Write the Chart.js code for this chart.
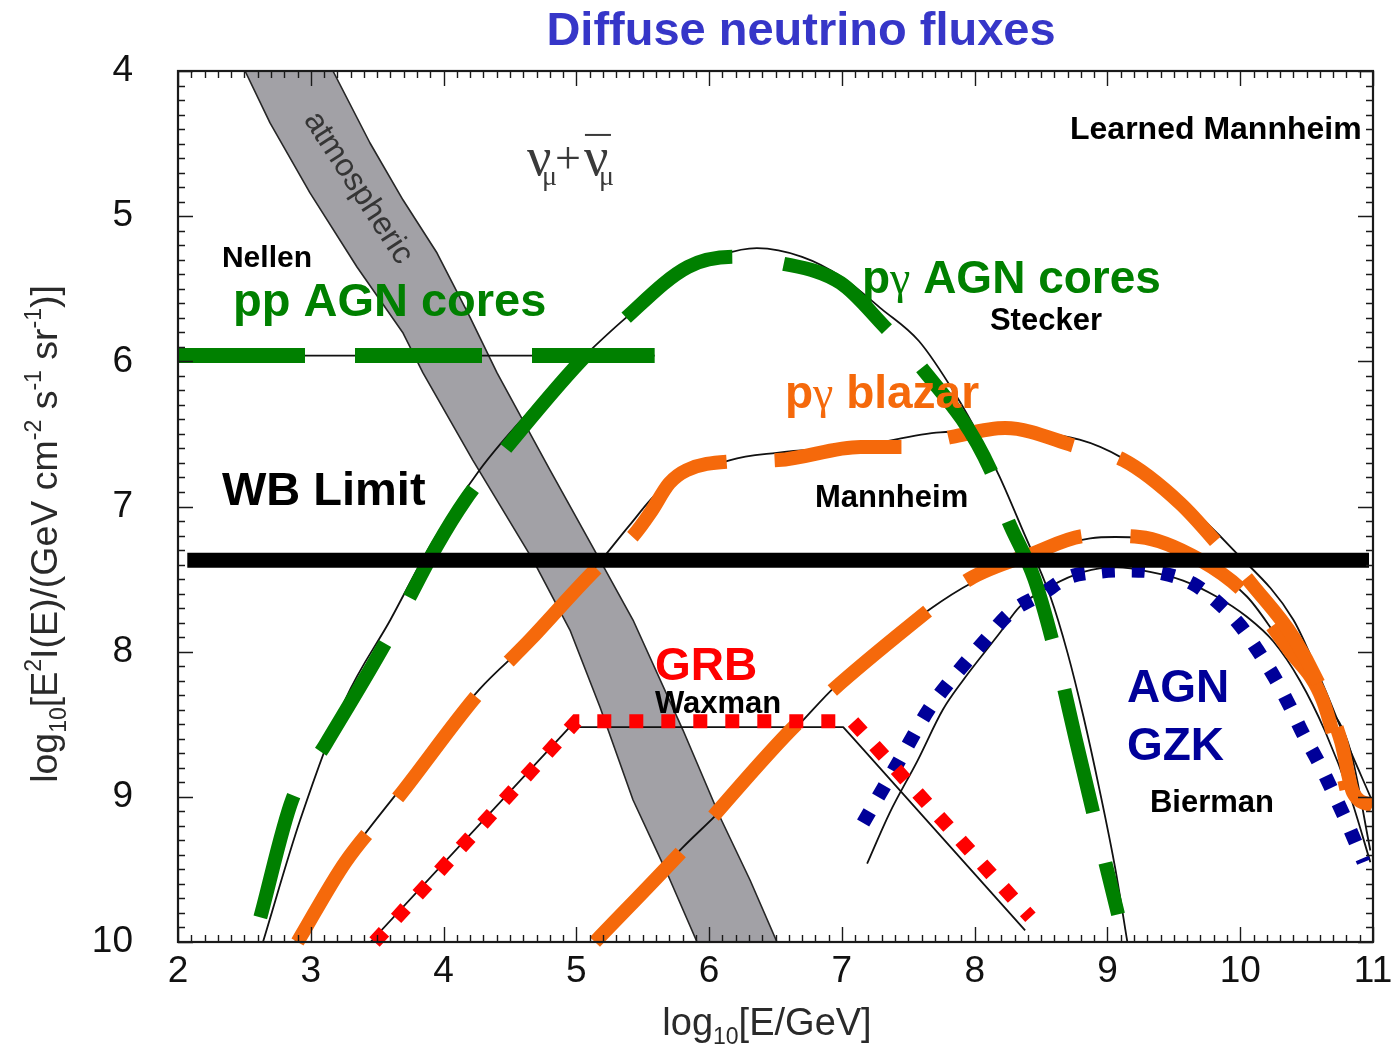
<!DOCTYPE html>
<html>
<head>
<meta charset="utf-8">
<title>Diffuse neutrino fluxes</title>
<script src="https://cdn.jsdelivr.net/npm/chart.js@4.4.1/dist/chart.umd.min.js"></script>
<style>
  html, body { margin: 0; padding: 0; background: #fff; }
</style>
</head>
<body>
<canvas id="flux" width="1393" height="1048"></canvas>
<script>
// x: log10(E/GeV), y: log10 E^2 I(E), y axis runs downward from 4 to 10
const xTicks = [2, 3, 4, 5, 6, 7, 8, 9, 10, 11];
const yTicks = [4, 5, 6, 7, 8, 9, 10];

// atmospheric band, left and right rims
const atmoLeftE  = [2.505, 2.693, 2.994, 3.348, 3.695, 3.845, 4.22, 4.674, 4.952, 5.178, 5.427, 5.683, 5.909];
const atmoLeftF  = [4.00, 4.358, 4.840, 5.350, 5.805, 6.080, 6.680, 7.369, 7.851, 8.381, 9.022, 9.525, 10.0];
const atmoRightE = [3.167, 3.446, 3.695, 3.951, 4.199, 4.403, 4.802, 5.178, 5.427, 5.803, 6.082, 6.308, 6.511];
const atmoRightF = [4.00, 4.496, 4.889, 5.254, 5.695, 6.080, 6.749, 7.369, 7.782, 8.540, 9.139, 9.573, 10.0];

// Nellen, pp AGN cores
const nellenE = [2.0, 5.59];
const nellenF = [5.96, 5.96];

// Stecker, p-gamma AGN cores (model curve and highlighted trace)
const steckerE = [2.64, 2.92, 3.26, 3.60, 3.90, 4.27, 4.65, 5.03, 5.40, 5.86, 6.36, 6.70, 7.00, 7.30, 7.58, 7.85, 8.06, 8.19, 8.36, 8.57, 8.70, 8.82, 8.94, 9.06, 9.15];
const steckerF = [10.0, 9.16, 8.33, 7.78, 7.27, 6.75, 6.34, 5.99, 5.68, 5.37, 5.22, 5.28, 5.42, 5.64, 5.86, 6.22, 6.56, 6.80, 7.16, 7.62, 8.01, 8.45, 8.95, 9.50, 10.0];
const steckerHiE = [2.62, 2.86, 3.11, 3.58, 3.95, 4.16, 4.46, 5.03, 5.35, 5.84, 6.19, 6.52, 6.99, 7.32, 7.57, 8.12, 8.24, 8.45, 8.62, 8.76, 8.89, 9.08];
const steckerHiF = [9.83, 9.02, 8.64, 7.91, 7.27, 6.96, 6.61, 6.00, 5.72, 5.35, 5.28, 5.32, 5.46, 5.76, 6.01, 6.75, 7.07, 7.50, 8.05, 8.60, 9.10, 9.81];

// Mannheim, p-gamma blazar
const blazarE = [2.88, 3.26, 3.67, 4.27, 4.65, 5.16, 5.40, 5.63, 6.16, 6.51, 7.14, 7.74, 8.19, 8.79, 9.12, 9.55, 9.95, 10.40, 10.62, 10.80, 10.99];
const blazarF = [10.0, 9.44, 8.95, 8.26, 7.92, 7.40, 7.13, 6.89, 6.68, 6.63, 6.58, 6.49, 6.48, 6.54, 6.67, 6.95, 7.30, 7.78, 8.22, 8.62, 9.02];
const blazarHiE = [2.90, 3.26, 3.67, 4.27, 4.65, 5.16, 5.43, 5.56, 5.70, 5.83, 6.16, 6.52, 7.14, 7.48, 7.83, 8.23, 8.78, 9.12, 9.55, 9.85, 10.10, 10.40, 10.62, 10.76, 10.85, 11.0];
const blazarHiF = [10.0, 9.45, 8.99, 8.28, 7.92, 7.42, 7.20, 7.04, 6.84, 6.75, 6.69, 6.68, 6.59, 6.59, 6.52, 6.46, 6.59, 6.68, 6.98, 7.28, 7.55, 7.90, 8.28, 8.62, 8.97, 9.06];

// Mannheim, lower blazar curve
const jetE = [5.14, 5.80, 6.08, 6.71, 6.96, 7.66, 7.99, 8.57, 8.87, 9.06, 9.24, 9.60, 10.05, 10.28, 10.60, 10.83, 10.98];
const jetF = [10.0, 9.35, 9.10, 8.47, 8.23, 7.71, 7.52, 7.29, 7.22, 7.21, 7.22, 7.33, 7.62, 7.90, 8.30, 8.68, 9.37];
const jetHiE = [5.14, 5.80, 6.68, 7.66, 7.96, 8.42, 8.87, 9.24, 9.70, 10.05, 10.37, 10.62, 10.75, 10.80];
const jetHiF = [10.0, 9.37, 8.48, 7.71, 7.50, 7.33, 7.20, 7.21, 7.37, 7.61, 7.99, 8.33, 8.75, 8.95];

// Waxman, GRB
const grbE = [3.45, 4.95, 7.01, 7.08, 8.38];
const grbF = [10.0, 8.52, 8.52, 8.59, 9.92];
const grbHiE = [3.48, 5.00, 7.08, 8.42];
const grbHiF = [10.0, 8.48, 8.48, 9.83];

// Bierman, AGN GZK
const gzkE = [7.19, 7.36, 7.57, 7.76, 7.91, 8.19, 8.34, 8.57, 8.82, 9.07, 9.32, 9.57, 9.82, 10.05, 10.25, 10.45, 10.64, 10.83, 10.98];
const gzkF = [9.46, 9.11, 8.75, 8.40, 8.20, 7.87, 7.69, 7.55, 7.45, 7.42, 7.45, 7.51, 7.62, 7.76, 7.93, 8.20, 8.55, 9.00, 9.45];
const gzkHiE = [7.16, 7.42, 7.66, 7.80, 8.08, 8.27, 8.51, 8.70, 8.93, 9.17, 9.41, 9.64, 9.83, 10.00, 10.13, 10.26, 10.37, 10.47, 10.60, 10.71, 10.82, 10.93];
const gzkHiF = [9.18, 8.77, 8.39, 8.22, 7.92, 7.73, 7.60, 7.49, 7.45, 7.44, 7.46, 7.53, 7.66, 7.82, 7.99, 8.18, 8.37, 8.56, 8.78, 8.99, 9.21, 9.45];

// Waxman-Bahcall limit
const wbE = [2.07, 10.97];
const wbF = [7.37, 7.37];

const GREEN = '#008000', ORANGE = '#f5690b', RED = '#ff0000', NAVY = '#000099', INK = '#111111';
const SANS = '"Liberation Sans", Arial, sans-serif';
const SERIF = '"Liberation Serif", "Times New Roman", serif';

const xy = (es, fs) => es.map((e, i) => ({ x: e, y: fs[i] }));

function curve(es, fs, color, width, extra) {
  return Object.assign({
    data: xy(es, fs),
    borderColor: color,
    borderWidth: width,
    pointRadius: 0,
    fill: false,
    cubicInterpolationMode: 'monotone',
    borderJoinStyle: 'round'
  }, extra || {});
}

const bottomSpill = { left: 0, top: 0, right: 0, bottom: 8 };

// first dataset is painted last (on top)
const datasets = [
  curve(wbE, wbF, '#000', 15, { cubicInterpolationMode: 'default' }),
  curve(steckerHiE, steckerHiF, GREEN, 14, { borderDash: [126, 52] }),
  curve(nellenE, nellenF, GREEN, 15, { borderDash: [127, 50], cubicInterpolationMode: 'default' }),
  curve(grbHiE, grbHiF, RED, 14, { borderDash: [14, 18], borderJoinStyle: 'miter', cubicInterpolationMode: 'default', clip: bottomSpill }),
  curve(blazarHiE, blazarHiF, ORANGE, 14, { borderDash: [128, 48], clip: bottomSpill }),
  curve(jetHiE, jetHiF, ORANGE, 14, { borderDash: [124, 49], clip: bottomSpill }),
  curve(gzkHiE, gzkHiF, NAVY, 14, { borderDash: [13, 17] }),
  curve(nellenE, nellenF, INK, 1.8, { cubicInterpolationMode: 'default' }),
  curve(steckerE, steckerF, INK, 1.8),
  curve(blazarE, blazarF, INK, 1.8),
  curve(jetE, jetF, INK, 1.8),
  curve(grbE, grbF, INK, 1.8, { cubicInterpolationMode: 'default' }),
  curve(gzkE, gzkF, INK, 1.8),
  curve(atmoLeftE, atmoLeftF, '#262626', 1.6, { cubicInterpolationMode: 'default' }),
  curve(atmoRightE, atmoRightF, '#262626', 1.6, { cubicInterpolationMode: 'default' }),
  {
    data: xy(atmoLeftE.concat(atmoRightE.slice().reverse()), atmoLeftF.concat(atmoRightF.slice().reverse())),
    borderWidth: 0,
    pointRadius: 0,
    backgroundColor: '#a2a1a6',
    fill: 'shape',
    tension: 0
  }
];

// text placed in data coordinates
const notes = [
  { text: 'Learned Mannheim', e: 8.718, f: 4.468, size: 32, color: '#000' },
  { text: 'Nellen', e: 2.331, f: 5.350, size: 30, color: '#000' },
  { text: 'pp AGN cores', e: 2.414, f: 5.688, size: 47, color: GREEN },
  { text: 'p\u03b3 AGN cores', e: 7.151, f: 5.529, size: 46, color: GREEN },
  { text: 'Stecker', e: 8.115, f: 5.784, size: 31, color: '#000' },
  { text: 'p\u03b3 blazar', e: 6.571, f: 6.321, size: 46, color: ORANGE },
  { text: 'Mannheim', e: 6.797, f: 7.003, size: 31, color: '#000' },
  { text: 'WB Limit', e: 2.331, f: 6.990, size: 47, color: '#000' },
  { text: 'GRB', e: 5.592, f: 8.195, size: 46, color: RED },
  { text: 'Waxman', e: 5.592, f: 8.422, size: 31, color: '#000' },
  { text: 'AGN', e: 9.147, f: 8.347, size: 46, color: NAVY },
  { text: 'GZK', e: 9.147, f: 8.746, size: 46, color: NAVY },
  { text: 'Bierman', e: 9.320, f: 9.104, size: 31, color: '#000' }
];

function drawRich(ctx, parts, cx, baseY, size, color) {
  const fontOf = s => (s ? Math.round(size * 0.6) : size) + 'px ' + SANS;
  let total = 0;
  const widths = parts.map(([t, s]) => {
    ctx.font = fontOf(s);
    const w = ctx.measureText(t).width;
    total += w;
    return w;
  });
  let x = cx - total / 2;
  ctx.fillStyle = color;
  ctx.textAlign = 'left';
  ctx.textBaseline = 'alphabetic';
  parts.forEach(([t, s], i) => {
    ctx.font = fontOf(s);
    const dy = s < 0 ? size * 0.24 : s > 0 ? -size * 0.42 : 0;
    ctx.fillText(t, x, baseY + dy);
    x += widths[i];
  });
}

// bold label; any gamma is set in a serif face
function drawNote(ctx, n, px, py) {
  ctx.fillStyle = n.color;
  ctx.textAlign = 'left';
  ctx.textBaseline = 'alphabetic';
  let x = px;
  n.text.split(/(\u03b3)/).forEach(piece => {
    if (!piece) return;
    ctx.font = piece === '\u03b3' ? n.size + 'px ' + SERIF : 'bold ' + n.size + 'px ' + SANS;
    ctx.fillText(piece, x, py);
    x += ctx.measureText(piece).width;
  });
}

// inward major/minor ticks on all four sides plus the frame
const frameTicks = {
  id: 'frameTicks',
  afterDatasetsDraw(chart) {
    const { ctx, chartArea: a, scales: { x, y } } = chart;
    ctx.save();
    ctx.strokeStyle = '#1a1a1a';
    ctx.lineWidth = 1.4;
    ctx.beginPath();
    for (let v = xTicks[0] * 10; v <= xTicks[xTicks.length - 1] * 10; v++) {
      const px = Math.round(x.getPixelForValue(v / 10)) + 0.5;
      const len = v % 10 === 0 ? 15 : 7;
      ctx.moveTo(px, a.bottom); ctx.lineTo(px, a.bottom - len);
      ctx.moveTo(px, a.top); ctx.lineTo(px, a.top + len);
    }
    for (let v = yTicks[0] * 10; v <= yTicks[yTicks.length - 1] * 10; v++) {
      const py = Math.round(y.getPixelForValue(v / 10)) + 0.5;
      const len = v % 10 === 0 ? 15 : 7;
      ctx.moveTo(a.left, py); ctx.lineTo(a.left + len, py);
      ctx.moveTo(a.right, py); ctx.lineTo(a.right - len, py);
    }
    ctx.stroke();
    ctx.lineWidth = 2.2;
    ctx.strokeRect(a.left, a.top, a.right - a.left, a.bottom - a.top);
    ctx.restore();
  }
};

const textLayer = {
  id: 'textLayer',
  afterDraw(chart) {
    const { ctx, scales: { x, y } } = chart;
    ctx.save();

    ctx.font = 'bold 47px ' + SANS;
    ctx.fillStyle = '#3636c8';
    ctx.textAlign = 'center';
    ctx.textBaseline = 'alphabetic';
    ctx.fillText('Diffuse neutrino fluxes', 801, 45);

    notes.forEach(n => drawNote(ctx, n, x.getPixelForValue(n.e), y.getPixelForValue(n.f)));

    // atmospheric label along the band
    ctx.save();
    ctx.translate(x.getPixelForValue(3.356), y.getPixelForValue(4.806));
    ctx.rotate(57 * Math.PI / 180);
    ctx.font = '32px ' + SANS;
    ctx.fillStyle = '#353535';
    ctx.textAlign = 'center';
    ctx.textBaseline = 'middle';
    ctx.fillText('atmospheric', 0, 0);
    ctx.restore();

    // nu_mu + anti-nu_mu
    const nx = x.getPixelForValue(4.628), ny = y.getPixelForValue(4.716);
    ctx.fillStyle = '#3a3a3a';
    ctx.textAlign = 'left';
    ctx.font = '54px ' + SERIF;
    ctx.fillText('\u03bd', nx, ny);
    ctx.font = '46px ' + SERIF;
    ctx.fillText('+', nx + 28, ny - 2);
    ctx.font = '54px ' + SERIF;
    ctx.fillText('\u03bd', nx + 57, ny);
    ctx.font = '28px ' + SERIF;
    ctx.fillText('\u03bc', nx + 15, ny + 10);
    ctx.fillText('\u03bc', nx + 72, ny + 10);
    ctx.fillRect(nx + 58, ny - 41, 26, 2);

    drawRich(ctx, [['log', 0], ['10', -1], ['[E/GeV]', 0]], 767, 1035, 38, '#2a2a2a');

    ctx.save();
    ctx.translate(57, 534);
    ctx.rotate(-Math.PI / 2);
    drawRich(ctx, [['log', 0], ['10', -1], ['[E', 0], ['2', 1], ['I(E)/(GeV cm', 0], ['-2', 1],
      [' s', 0], ['-1', 1], [' sr', 0], ['-1', 1], [')]', 0]], 0, 0, 37.5, '#2a2a2a');
    ctx.restore();

    ctx.restore();
  }
};

const tickFont = { family: SANS, size: 37 };

new Chart(document.getElementById('flux'), {
  type: 'line',
  data: { datasets: datasets },
  options: {
    responsive: false,
    animation: false,
    events: [],
    layout: { padding: { top: 71, right: 20, left: 0, bottom: 0 }, autoPadding: false },
    plugins: { legend: { display: false }, tooltip: { enabled: false } },
    scales: {
      x: {
        type: 'linear',
        min: xTicks[0],
        max: xTicks[xTicks.length - 1],
        afterFit(scale) {
          scale.height = 106;
          scale.paddingLeft = 0;
          scale.paddingRight = 0;
        },
        afterBuildTicks(scale) { scale.ticks = xTicks.map(v => ({ value: v })); },
        grid: { display: false, drawTicks: false },
        border: { display: false },
        ticks: { padding: 8, font: tickFont, color: INK, maxRotation: 0, autoSkip: false }
      },
      y: {
        type: 'linear',
        reverse: true,
        min: yTicks[0],
        max: yTicks[yTicks.length - 1],
        afterFit(scale) {
          scale.width = 178;
          scale.paddingTop = 0;
          scale.paddingBottom = 0;
        },
        afterBuildTicks(scale) { scale.ticks = yTicks.map(v => ({ value: v })); },
        grid: { display: false, drawTicks: false },
        border: { display: false },
        ticks: { padding: 45, font: tickFont, color: INK, autoSkip: false }
      }
    }
  },
  plugins: [frameTicks, textLayer]
});
</script>
</body>
</html>
